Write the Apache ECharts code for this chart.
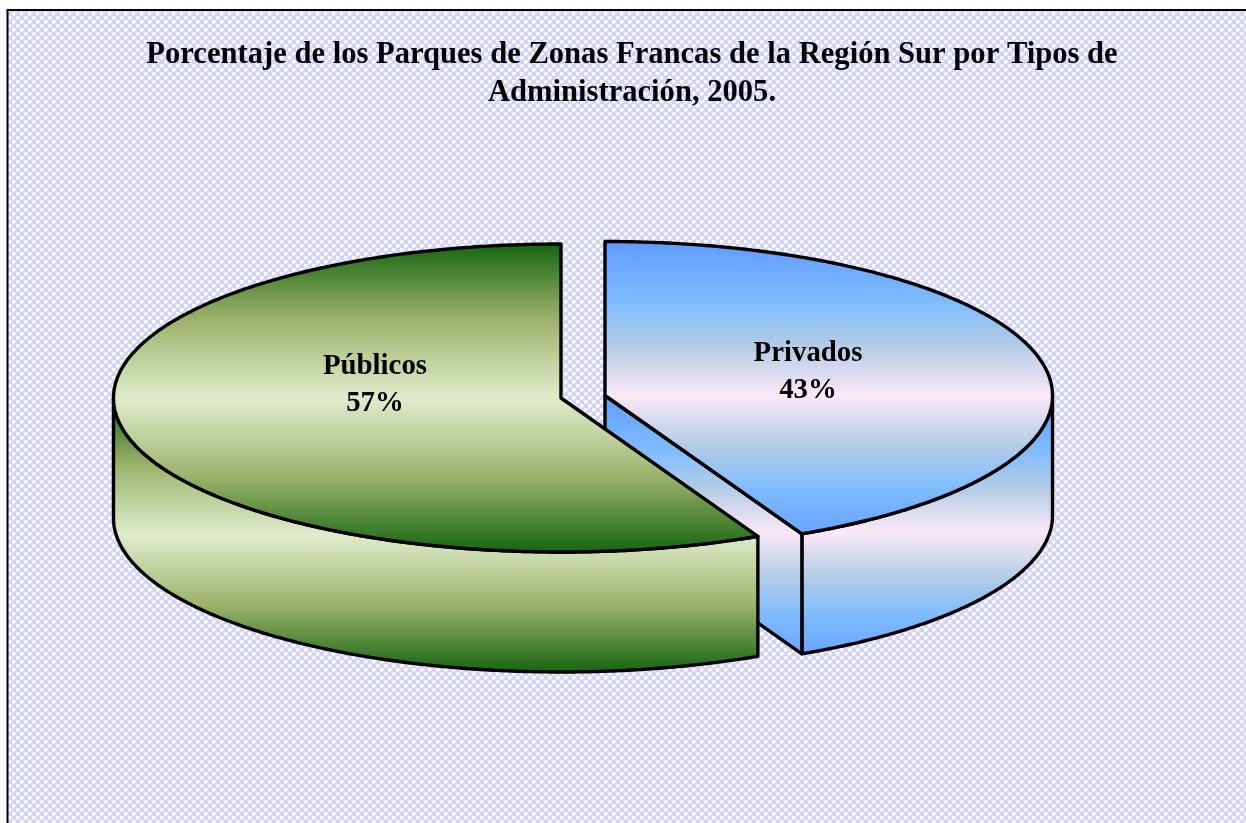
<!DOCTYPE html>
<html><head><meta charset="utf-8">
<style>html,body{margin:0;padding:0;background:#fff;overflow:hidden}#c{width:1246px;height:823px}</style>
<script src="https://cdn.jsdelivr.net/npm/echarts@6/dist/echarts.min.js"></script>
</head><body><div id="c"></div>
<script>
var categories = ['Privados', 'Públicos'];
var values = [42.75, 57.25];
var titleLines = 'Porcentaje de los Parques de Zonas Francas de la Región Sur por Tipos de\nAdministración, 2005.';
var blueStops = ['#5F9BFF', '#80BCFF', '#B4CCE6', '#FBE9F8', '#B4CCE6', '#80BCFF', '#5F9BFF'];
var blueOffsets = [0, 0.2, 0.34, 0.5, 0.66, 0.8, 1];
var greenStops = ['#176612', '#9CB26C', '#BDD09B', '#E0EBCD', '#BDD09B', '#9CB26C', '#176612'];
var greenOffsets = [0, 0.245, 0.37, 0.5, 0.63, 0.755, 1];

var RX = 447.5, RY = 154, DEPTH = 120;
var sliceCenters = [[605, 395.5], [561, 398]];
var labelCenters = [[808, 372.5], [375, 385.5]];

function gradient(stops, offsets, y0, y1) {
  return { type: 'linear', x: 0, y: y0, x2: 0, y2: y1, global: true,
    colorStops: stops.map(function (c, i) { return { offset: offsets[i], color: c }; }) };
}
function pt(c, deg, dy) {
  var a = deg * Math.PI / 180;
  return [c[0] + RX * Math.sin(a), c[1] - RY * Math.cos(a) + (dy || 0)];
}
function arc(c, from, to, dy) {
  var n = Math.max(2, Math.ceil(Math.abs(to - from) * 2)), out = [];
  for (var i = 0; i <= n; i++) out.push(pt(c, from + (to - from) * i / n, dy));
  return out;
}
function poly(points, fill, z) {
  return { type: 'polygon', z2: z, shape: { points: points },
    style: { fill: fill, stroke: '#000', lineWidth: 3.4, lineJoin: 'round' } };
}
var total = values.reduce(function (a, b) { return a + b; }, 0);
function span0() { return values[0] / total * 360; }

function renderSlice(params, api) {
  var i = params.dataIndex, c = sliceCenters[i], base = i * 10;
  var span = api.value(0) / total * 360;
  var stops = i === 0 ? blueStops : greenStops;
  var offs = i === 0 ? blueOffsets : greenOffsets;
  var start = i === 0 ? 0 : span0();
  var end = start + span;
  var top = gradient(stops, offs, c[1] - RY, c[1] + RY);
  var side = gradient(stops, offs, c[1], c[1] + RY + DEPTH);
  var kids = [];
  var a0 = Math.max(start, 90), a1 = Math.min(end, 270);
  if (a1 > a0) {
    kids.push(poly(arc(c, a0, a1, 0).concat(arc(c, a1, a0, DEPTH)), side, base + 1));
  }
  if (i === 0) {
    var e = pt(c, end, 0), eb = pt(c, end, DEPTH);
    kids.push(poly([c, e, eb, [c[0], c[1] + DEPTH]], side, base + 2));
  }
  kids.push(poly([c].concat(arc(c, start, end, 0)), top, base + 3));
  var l = labelCenters[i];
  kids.push({ type: 'text', z2: 50, style: {
    x: l[0], y: l[1], text: categories[i] + '\n' + Math.round(api.value(0)) + '%',
    fill: '#000', align: 'center', verticalAlign: 'middle',
    font: 'bold 28.8px "Liberation Serif"', lineHeight: 37 } });
  return { type: 'group', children: kids };
}

var tile = document.createElement('canvas');
tile.width = tile.height = 8;
var g = tile.getContext('2d');
g.fillStyle = '#D3D3FF'; g.fillRect(0, 0, 8, 8);
g.fillStyle = '#FAFAFF'; g.fillRect(0, 0, 3, 3); g.fillRect(4, 4, 3, 3);
g.fillStyle = '#E8E8FF'; g.fillRect(3, 0, 1, 3); g.fillRect(0, 3, 3, 1); g.fillRect(7, 4, 1, 3); g.fillRect(4, 7, 3, 1);

var chart = echarts.init(document.getElementById('c'), null, { renderer: 'canvas' });
chart.setOption({
  animation: false,
  backgroundColor: '#fff',
  graphic: [{ type: 'rect', z: -10, silent: true,
    shape: { x: 7.5, y: 10, width: 1300, height: 900 },
    style: { fill: { image: tile, repeat: 'repeat' }, stroke: '#000', lineWidth: 2 } }],
  title: { text: titleLines, left: 627, top: 31, textAlign: 'center',
    textStyle: { fontFamily: 'Liberation Serif', fontWeight: 'bold', fontSize: 30.6, lineHeight: 38, color: '#000' } },
  series: [{ type: 'custom', coordinateSystem: 'none', renderItem: renderSlice, silent: true,
    data: values.map(function (v) { return [v]; }) }]
});
</script></body></html>
